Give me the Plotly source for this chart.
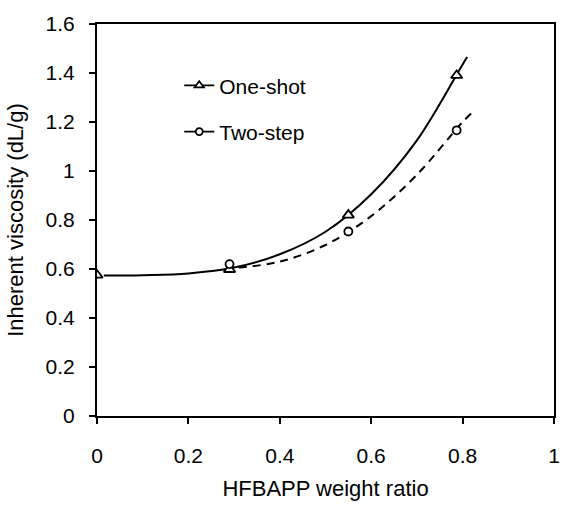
import plotly.graph_objects as go

ratio = [0, 0.29, 0.55, 0.787]
one_shot = [0.575, 0.598, 0.82, 1.39]
ratio_two = [0.29, 0.55, 0.787]
two_step = [0.62, 0.753, 1.166]

# fitted curves
fit1_x = [0.015, 0.1, 0.2, 0.3, 0.4, 0.5, 0.6, 0.7, 0.8, 0.81]
fit1_y = [0.573, 0.575, 0.582, 0.606, 0.66, 0.752, 0.905, 1.125, 1.435, 1.465]
fit2_x = [0.31, 0.4, 0.5, 0.6, 0.7, 0.8, 0.822]
fit2_y = [0.606, 0.63, 0.698, 0.816, 0.985, 1.2, 1.24]

x_ticks = [0, 0.2, 0.4, 0.6, 0.8, 1]
x_labels = ["0", "0.2", "0.4", "0.6", "0.8", "1"]
y_ticks = [0, 0.2, 0.4, 0.6, 0.8, 1, 1.2, 1.4, 1.6]
y_labels = ["0", "0.2", "0.4", "0.6", "0.8", "1", "1.2", "1.4", "1.6"]

FONT = "Liberation Sans, Arial, sans-serif"

fig = go.Figure()

# fitted lines
fig.add_trace(go.Scatter(
    x=fit1_x, y=fit1_y, mode="lines", line_shape="spline",
    line=dict(color="black", width=2), showlegend=False, hoverinfo="skip"
))
fig.add_trace(go.Scatter(
    x=fit2_x, y=fit2_y, mode="lines", line_shape="spline",
    line=dict(color="black", width=2, dash="8px,6px"), showlegend=False, hoverinfo="skip"
))

# data markers
fig.add_trace(go.Scatter(
    x=ratio, y=one_shot, mode="markers", showlegend=False,
    marker=dict(symbol="triangle-up", size=10, color="white",
                line=dict(color="black", width=1.8))
))
fig.add_trace(go.Scatter(
    x=ratio_two, y=two_step, mode="markers", showlegend=False,
    marker=dict(symbol="circle", size=8, color="white",
                line=dict(color="black", width=1.8))
))

# legend entries
fig.add_trace(go.Scatter(
    x=[None], y=[None], mode="lines+markers", name="One-shot", legendgroup="a",
    line=dict(color="black", width=1.8),
    marker=dict(symbol="triangle-up", size=8, color="white",
                line=dict(color="black", width=1.8))
))
fig.add_trace(go.Scatter(
    x=[None], y=[None], mode="lines+markers", name="Two-step", legendgroup="b",
    line=dict(color="black", width=1.8),
    marker=dict(symbol="circle", size=7, color="white",
                line=dict(color="black", width=1.8))
))

axis_common = dict(
    showline=True, linecolor="black", linewidth=2, mirror=True,
    ticks="outside", ticklen=6, tickwidth=1.5, tickcolor="black",
    showgrid=False, zeroline=False, ticklabeloverflow="allow",
    tickfont=dict(size=21, color="black"),
)

fig.update_xaxes(
    range=[0, 1], tickvals=x_ticks, ticktext=x_labels,
    ticklabelstandoff=14,
    title=dict(text="HFBAPP weight ratio", font=dict(size=22, color="black"), standoff=14),
    **axis_common
)
fig.update_yaxes(
    range=[0, 1.6], tickvals=y_ticks, ticktext=y_labels,
    ticklabelstandoff=10,
    title=dict(text="Inherent viscosity (dL/g)", font=dict(size=22, color="black"), standoff=16),
    **axis_common
)

fig.update_layout(
    width=562, height=508,
    margin=dict(l=97, r=8, t=24, b=92, autoexpand=False),
    paper_bgcolor="white", plot_bgcolor="white",
    font=dict(family=FONT, color="black"),
    legend=dict(
        x=0.18, y=0.895, xanchor="left", yanchor="top",
        bgcolor="rgba(0,0,0,0)", itemwidth=30, tracegroupgap=16,
        font=dict(size=21, color="black"),
    ),
)

# drop the default page margin so the 562x508 figure fills the window exactly
fig.write_html("out.html", config={"displayModeBar": False},
               post_script="document.body.style.margin='0';")
